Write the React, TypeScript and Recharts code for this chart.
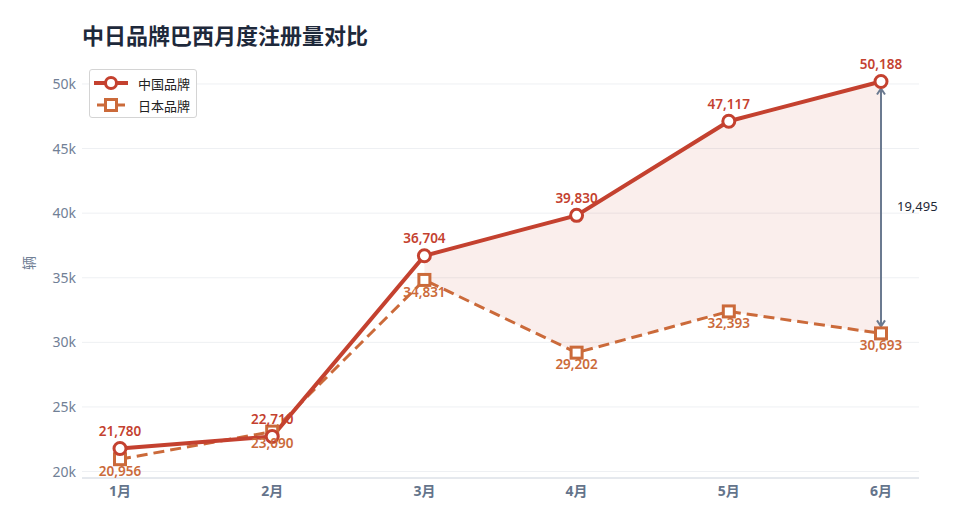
import React from 'react';
import {
  ComposedChart,
  Line,
  Area,
  XAxis,
  YAxis,
  CartesianGrid,
  LabelList,
  ReferenceLine,
} from 'recharts';

const months = ['1月', '2月', '3月', '4月', '5月', '6月'];
const chinaValues = [21780, 22710, 36704, 39830, 47117, 50188];
const japanValues = [20956, 23090, 34831, 29202, 32393, 30693];
const yTicks = [20000, 25000, 30000, 35000, 40000, 45000, 50000];
// the shaded gap starts at March
const gapStart = 2;

const CHINA = '#c4412f';
const JAPAN = '#cb6a3a';
const SLATE = '#718096';
const FONT = "'Noto Sans', 'Noto Sans CJK SC', sans-serif";

const data = months.map((m, i) => ({
  month: m,
  china: chinaValues[i],
  japan: japanValues[i],
  gap: i >= gapStart ? [japanValues[i], chinaValues[i]] : null,
}));

const last = months.length - 1;
const gapValue = chinaValues[last] - japanValues[last];

const fmt = (v: number) => v.toLocaleString('en-US');

const ChinaDot = (props: any) => {
  const { cx, cy } = props;
  if (cx == null || cy == null) return null;
  return <circle cx={cx} cy={cy} r={6} fill="#fff" stroke={CHINA} strokeWidth={3} />;
};

const JapanDot = (props: any) => {
  const { cx, cy } = props;
  if (cx == null || cy == null) return null;
  return (
    <rect x={cx - 5.5} y={cy - 5.5} width={11} height={11} fill="#fff" stroke={JAPAN} strokeWidth={3} />
  );
};

const topLabel = (props: any) => {
  const { x, y, value } = props;
  return (
    <text x={x} y={y - 16} textAnchor="middle" dominantBaseline="middle" fill={CHINA}
      fontSize={13.5} fontWeight={600} fontFamily={FONT}>
      {fmt(value)}
    </text>
  );
};

const bottomLabel = (props: any) => {
  const { x, y, value } = props;
  return (
    <text x={x} y={y + 13} textAnchor="middle" dominantBaseline="middle" fill={JAPAN}
      fontSize={13.5} fontWeight={600} fontFamily={FONT}>
      {fmt(value)}
    </text>
  );
};

const GapArrow = (props: any) => {
  const { x1, y1, x2, y2 } = props;
  const top = Math.min(y1, y2) + 7;
  const bottom = Math.max(y1, y2) - 7;
  const x = x1;
  return (
    <g stroke="#6b7a90" strokeWidth={2} fill="none">
      <line x1={x} y1={top} x2={x2} y2={bottom} />
      <polyline points={`${x - 4},${top + 6} ${x},${top} ${x + 4},${top + 6}`} />
      <polyline points={`${x - 4},${bottom - 6} ${x},${bottom} ${x + 4},${bottom - 6}`} />
      <text x={x + 16} y={(y1 + y2) / 2} stroke="none" fill="#1f2937" fontSize={13}
        fontFamily={FONT} dominantBaseline="middle">
        {fmt(gapValue)}
      </text>
    </g>
  );
};

const LegendBox = () => (
  <div style={{
    position: 'absolute', left: 89, top: 69, boxSizing: 'border-box', width: 108, height: 49,
    border: '1.5px solid #d4d4d4', borderRadius: 3, background: '#fff',
    padding: '2px 6px 2px 2px', fontFamily: FONT, fontSize: 13, color: '#222',
  }}>
    <div style={{ display: 'flex', alignItems: 'center', height: 22 }}>
      <svg width={38} height={16}>
        <line x1={2} y1={8} x2={36} y2={8} stroke={CHINA} strokeWidth={4} />
        <circle cx={19} cy={8} r={5.5} fill="#fff" stroke={CHINA} strokeWidth={3} />
      </svg>
      <span style={{ marginLeft: 8 }}>中国品牌</span>
    </div>
    <div style={{ display: 'flex', alignItems: 'center', height: 22 }}>
      <svg width={38} height={16}>
        <line x1={5} y1={8} x2={33} y2={8} stroke={JAPAN} strokeWidth={3} />
        <rect x={13.5} y={2.5} width={11} height={11} fill="#fff" stroke={JAPAN} strokeWidth={3} />
      </svg>
      <span style={{ marginLeft: 8 }}>日本品牌</span>
    </div>
  </div>
);

export default function App() {
  return (
    <div style={{ position: 'fixed', left: 0, top: 0, width: 962, height: 524, background: '#fff' }}>
      <div style={{
        position: 'absolute', left: 82, top: 20, fontFamily: FONT, fontSize: 22,
        fontWeight: 700, color: '#1e293b', lineHeight: '30px',
      }}>
        中日品牌巴西月度注册量对比
      </div>
      <ComposedChart
        width={962}
        height={524}
        data={data}
        margin={{ top: 62, right: 43, left: 20, bottom: 16 }}
        style={{ fontFamily: FONT }}
      >
        <CartesianGrid vertical={false} stroke="#eef0f3" syncWithTicks />
        <XAxis
          dataKey="month"
          padding={{ left: 38, right: 38 }}
          tickLine={false}
          axisLine={{ stroke: '#cbd2dc' }}
          height={30}
          tick={{ fill: '#64748b', fontSize: 14, fontWeight: 700 }}
        />
        <YAxis
          width={62}
          domain={[19500, 51700]}
          ticks={yTicks}
          tickFormatter={(v: number) => `${v / 1000}k`}
          axisLine={false}
          tickLine={false}
          tickMargin={0}
          tick={{ fill: SLATE, fontSize: 14 }}
          label={{ value: '辆', angle: -90, position: 'insideLeft', offset: 9, fill: SLATE, fontSize: 14 }}
        />
        <Area
          dataKey="gap"
          fill={CHINA}
          fillOpacity={0.09}
          stroke="none"
          isAnimationActive={false}
          legendType="none"
        />
        <Line
          dataKey="japan"
          name="日本品牌"
          stroke={JAPAN}
          strokeWidth={3}
          strokeDasharray="11 6"
          dot={<JapanDot />}
          activeDot={false}
          isAnimationActive={false}
        >
          <LabelList dataKey="japan" content={bottomLabel} />
        </Line>
        <Line
          dataKey="china"
          name="中国品牌"
          stroke={CHINA}
          strokeWidth={4}
          dot={<ChinaDot />}
          activeDot={false}
          isAnimationActive={false}
        >
          <LabelList dataKey="china" content={topLabel} />
        </Line>
        <ReferenceLine
          segment={[
            { x: months[last], y: chinaValues[last] },
            { x: months[last], y: japanValues[last] },
          ]}
          shape={<GapArrow />}
        />
      </ComposedChart>
      <LegendBox />
    </div>
  );
}
